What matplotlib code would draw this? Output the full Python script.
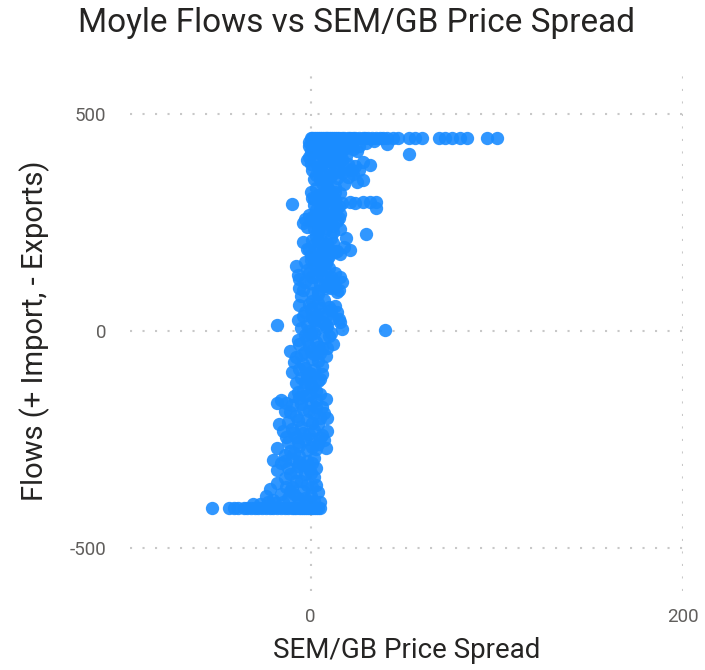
import numpy as np
import matplotlib
matplotlib.use("Agg")
import matplotlib.pyplot as plt

plt.rcParams['font.family'] = ['Roboto', 'DejaVu Sans']
plt.rcParams['axes.unicode_minus'] = False

# flows sitting on the import / export limits
cap_flow = 445
cap_spread = [0, 1, 2, 3, 4, 5, 6, 7, 8, 9, 10, 11, 12, 13, 14, 15, 17, 18, 20, 21,
              23, 24, 26, 28, 29, 31, 33, 35, 37, 39, 41, 44, 47, 53, 56, 60, 69, 72,
              76, 80, 84, 95, 100]
floor_flow = -408
floor_spread = [-53, -44, -41, -39, -36, -34, -32, -30, -28, -26, -24, -22, -20, -18,
                -16, -14, -12, -10, -9, -8, -6, -5, -4, -3, -2, -1, 0, 1, 2, 3, 4, 5]

# (spread, flow) points, grouped by flow band
top_band = [(-1, 436), (1, 440), (3, 434), (5, 438), (7, 432), (9, 437), (11, 435),
            (13, 439), (15, 433), (18, 436), (20, 431), (-1, 428), (1, 425), (3, 430),
            (5, 422), (7, 418), (9, 426), (11, 420), (13, 415), (15, 424), (18, 419),
            (20, 427), (23, 421), (25, 416), (2, 410), (6, 405), (10, 412), (14, 408),
            (19, 403), (41, 432), (53, 408), (0, 415), (4, 412), (8, 428), (12, 405),
            (16, 410), (22, 430), (17, 398), (26, 426), (30, 433), (34, 438)]
high_band = [(-2, 395), (0, 385), (3, 390), (6, 382), (9, 398), (12, 388), (16, 392),
             (20, 385), (24, 380), (28, 390), (32, 384), (4, 378), (8, 393), (14, 396),
             (18, 379), (3, 360), (5, 350), (8, 345), (11, 358), (14, 352), (17, 364),
             (20, 355), (22, 371), (25, 345), (28, 348), (6, 342), (12, 365), (18, 340),
             (1, 372), (5, 368), (10, 375), (15, 370), (2, 350), (9, 335), (13, 332),
             (7, 362), (23, 362), (-1, 402), (11, 392), (26, 372)]
mid_high = [(0, 320), (2, 305), (4, 315), (6, 290), (8, 300), (10, 325), (12, 310),
            (14, 285), (16, 318), (17, 295), (3, 280), (7, 298), (11, 312), (15, 288),
            (1, 308), (5, 282), (9, 322), (13, 302), (21, 297), (24, 296), (28, 298),
            (32, 297), (35, 297), (35, 283), (-10, 292), (-4, 250), (-2, 240), (0, 256),
            (2, 235), (4, 245), (6, 252), (8, 238), (10, 248), (12, 242), (14, 255),
            (16, 236), (1, 262), (5, 270), (9, 265), (13, 275), (-1, 268), (3, 258),
            (7, 272), (11, 264), (15, 260), (30, 223), (19, 214), (3, 330), (7, 318),
            (11, 296), (5, 303), (9, 285), (13, 320), (2, 290), (6, 276), (10, 258),
            (4, 230), (8, 262), (12, 228), (-3, 258), (16, 270)]
mid_band = [(-4, 205), (-2, 190), (0, 175), (2, 198), (4, 208), (6, 180), (8, 195),
            (10, 172), (12, 202), (14, 185), (16, 178), (18, 193), (21, 188), (1, 210),
            (5, 170), (9, 200), (13, 183), (3, 220), (7, 228), (11, 215), (-8, 150),
            (-6, 120), (-4, 95), (-2, 140), (0, 110), (2, 155), (4, 85), (6, 130),
            (8, 100), (10, 145), (12, 115), (14, 90), (16, 125), (17, 113), (-5, 80),
            (-1, 135), (3, 150), (7, 105), (11, 125), (15, 95), (-3, 160), (1, 88),
            (5, 140), (9, 118), (13, 102), (-7, 130), (0, 165), (4, 93), (8, 157),
            (-1, 188), (3, 180), (7, 192), (11, 186), (5, 212), (9, 165), (1, 125),
            (5, 108), (3, 128), (7, 142), (-3, 112), (11, 100), (2, 170), (6, 160),
            (-6, 100), (13, 135)]
zero_band = [(-6, 60), (-4, 35), (-2, 15), (0, 50), (2, 25), (4, 65), (6, 40),
             (8, 10), (10, 55), (12, 30), (14, 45), (16, 20), (17, 5), (-5, 8),
             (-1, 62), (3, 38), (7, 18), (11, 48), (15, 28), (1, 70), (5, 52), (9, 12),
             (-18, 14), (40, 2), (-11, -46), (-9, -71), (-7, -20), (-5, -55), (-3, -10),
             (-1, -35), (1, -65), (3, -25), (5, -50), (7, -15), (9, -40), (11, -5),
             (12, -30), (-8, -60), (-4, -75), (0, -45), (4, -70), (8, -58), (-6, -30),
             (-2, -18), (2, -52), (6, -40), (10, -12), (-3, 45), (1, 32), (5, 22),
             (9, 38), (13, 58), (3, 5), (-1, 0), (7, 72), (0, -8), (4, -38),
             (-3, -48), (6, -80), (2, -5), (-7, 25)]
low_band = [(-10, -95), (-8, -120), (-6, -88), (-4, -135), (-2, -105), (0, -125),
            (2, -90), (4, -115), (6, -100), (-7, -140), (-3, -85), (1, -130),
            (5, -110), (-5, -108), (-1, -98), (3, -138), (-18, -166), (-16, -160),
            (-14, -185), (-12, -210), (-10, -170), (-8, -195), (-6, -155), (-4, -180),
            (-2, -205), (0, -165), (2, -190), (4, -215), (6, -175), (8, -158),
            (9, -200), (-17, -214), (-3, -150), (1, -212), (5, -145), (-13, -165),
            (-9, -150), (-5, -168), (-1, -185), (3, -160), (7, -190), (-7, -205),
            (-11, -188), (-3, -118), (1, -100), (-1, -145), (3, -175), (5, -200)]
bottom_band = [(-18, -270), (-15, -230), (-12, -255), (-10, -225), (-8, -245),
               (-6, -265), (-4, -235), (-2, -275), (0, -250), (2, -228), (4, -260),
               (6, -240), (8, -270), (-11, -278), (-5, -222), (3, -272), (-1, -238),
               (7, -252), (9, -230), (-20, -297), (-18, -320), (-16, -305),
               (-14, -285), (-12, -315), (-10, -295), (-8, -325), (-6, -288),
               (-4, -310), (-2, -300), (0, -328), (2, -292), (3, -315), (-9, -282),
               (-3, -330), (1, -305), (-7, -312), (-24, -380), (-22, -365),
               (-20, -390), (-18, -350), (-16, -375), (-14, -340), (-12, -385),
               (-10, -360), (-8, -345), (-6, -392), (-4, -370), (-2, -355), (0, -380),
               (2, -338), (3, -355), (5, -395), (4, -372), (-15, -395), (-11, -370),
               (-7, -385), (-1, -395), (-27, -400), (-31, -400), (-13, -245),
               (-7, -255), (-3, -250), (1, -268), (-9, -235), (5, -248), (-14, -300),
               (-6, -302), (-1, -318), (-11, -330), (-5, -345), (1, -360), (-9, -375),
               (-3, -385), (2, -392), (-13, -360), (-19, -398), (-23, -395)]

bands = top_band + high_band + mid_high + mid_band + zero_band + low_band + bottom_band
spread = np.array(cap_spread + floor_spread + [p[0] for p in bands], dtype=float)
flow = np.array([cap_flow] * len(cap_spread) + [floor_flow] * len(floor_spread)
                + [p[1] for p in bands], dtype=float)

fig = plt.figure(figsize=(7.05, 6.70), dpi=100)
ax = fig.add_axes([130 / 705, 1 - 591 / 670, 553 / 705, 520 / 670])

ax.scatter(spread, flow, s=92, color='#1A8CFF', alpha=0.9, linewidths=0, zorder=3)

ax.set_xlim(-97, 200)
ax.set_ylim(-600, 600)
ax.set_xticks([0, 200])
ax.set_yticks([-500, 0, 500])
ax.grid(True, color='#C8C8C8', linestyle=(0, (1, 5)), linewidth=1.5, zorder=0)
for s in ax.spines.values():
    s.set_visible(False)
ax.tick_params(length=0, labelsize=13.5, labelcolor='#605E5C')
ax.tick_params(axis='x', pad=12)
ax.tick_params(axis='y', pad=17)

ax.set_xlabel('SEM/GB Price Spread', fontsize=20, color='#252423', labelpad=8)
ax.set_ylabel('Flows (+ Import, - Exports)', fontsize=21, color='#252423', labelpad=14)
fig.suptitle('Moyle Flows vs SEM/GB Price Spread', x=357 / 705, y=1 - 7 / 670,
             va='top', fontsize=24, color='#252423')

fig.savefig('out.png', dpi=100)
